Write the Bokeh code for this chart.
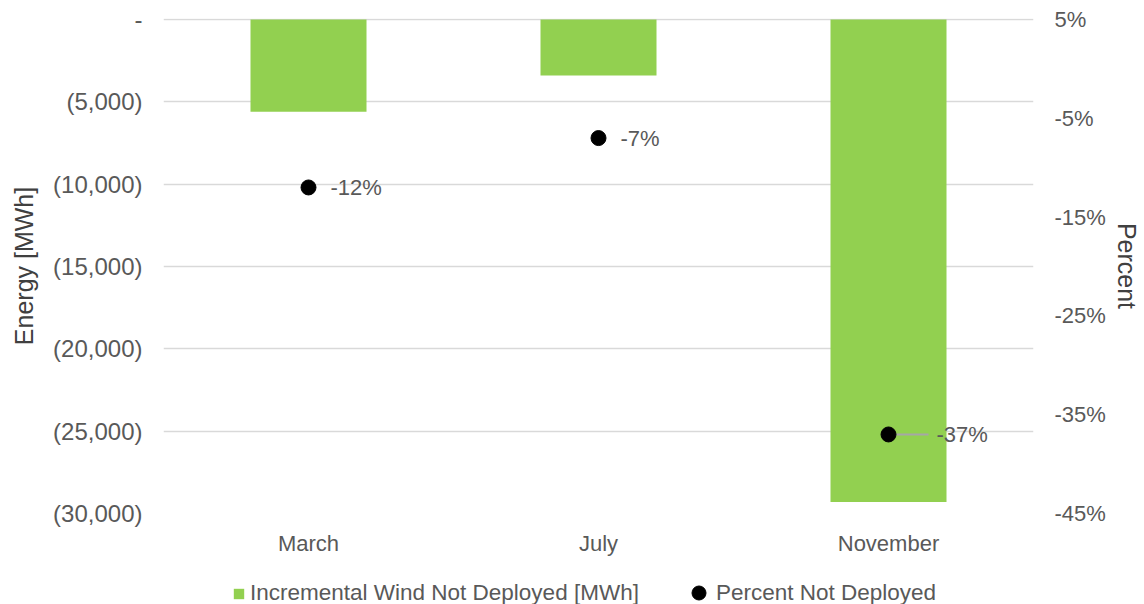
from bokeh.plotting import figure
from bokeh.layouts import column
from bokeh.models import (ColumnDataSource, FactorRange, Range1d, LinearAxis,
                          FixedTicker, Legend, LegendItem)
from bokeh.core.properties import value
from bokeh.embed import file_html
from bokeh.resources import INLINE

# --- data -------------------------------------------------------------
months = ["March", "July", "November"]
wind_not_deployed_mwh = [-5600, -3400, -29300]
percent_not_deployed = [-12, -7, -37]
percent_labels = ["-12%", "-7%", "-37%"]

energy_ticks = [0, -5000, -10000, -15000, -20000, -25000, -30000]
energy_tick_labels = ["-", "(5,000)", "(10,000)", "(15,000)", "(20,000)",
                      "(25,000)", "(30,000)"]
percent_ticks = [5, -5, -15, -25, -35, -45]
percent_tick_labels = ["5%", "-5%", "-15%", "-25%", "-35%", "-45%"]

series_names = ["Incremental Wind Not Deployed [MWh]", "Percent Not Deployed"]

# --- styling ----------------------------------------------------------
FONT = "Liberation Sans"
TEXT = "#595959"
TITLE = "#404040"
GREEN = "#92D050"
GRID = "#D9D9D9"

# axis extents; a sliver of headroom keeps the zero gridline fully visible
E_MIN, E_MAX = -30000, 0
P_MIN, P_MAX = -45, 5
HEADROOM = 61
P_HEADROOM = (P_MAX - P_MIN) * HEADROOM / (E_MAX - E_MIN)

src = ColumnDataSource(dict(
    month=months,
    energy=wind_not_deployed_mwh,
    pct=percent_not_deployed,
    pct_label=percent_labels,
    label_dx=[22, 22, 48],
))

p = figure(
    x_range=FactorRange(factors=months, range_padding=0),
    y_range=Range1d(E_MIN, E_MAX + HEADROOM),
    width=1144, height=575,
    output_backend="svg", toolbar_location=None,
    min_border_left=163, min_border_right=111,
    min_border_top=18, min_border_bottom=62,
    outline_line_color=None,
    background_fill_color="white", border_fill_color="white",
)
p.extra_y_ranges = {"pct": Range1d(P_MIN, P_MAX + P_HEADROOM)}

# grid
p.xgrid.grid_line_color = None
p.ygrid.grid_line_color = GRID
p.ygrid.grid_line_width = 1.4
p.ygrid.ticker = FixedTicker(ticks=energy_ticks)

# left axis
ly = p.yaxis[0]
ly.ticker = FixedTicker(ticks=energy_ticks)
ly.major_label_overrides = {t: s for t, s in zip(energy_ticks, energy_tick_labels)}
ly.axis_label = "Energy [MWh]"
ly.axis_label_text_font = FONT
ly.axis_label_text_font_style = "normal"
ly.axis_label_text_font_size = "25px"
ly.axis_label_text_color = TITLE
ly.axis_label_standoff = 12
ly.major_label_standoff = 15
ly.major_label_text_font = FONT
ly.major_label_text_font_size = "24px"
ly.major_label_text_color = TEXT
ly.axis_line_color = None
ly.major_tick_line_color = None
ly.minor_tick_line_color = None

# right axis (percent)
ry = LinearAxis(y_range_name="pct")
ry.ticker = FixedTicker(ticks=percent_ticks)
ry.major_label_overrides = {t: s for t, s in zip(percent_ticks, percent_tick_labels)}
ry.axis_label = "Percent"
ry.axis_label_text_font = FONT
ry.axis_label_text_font_style = "normal"
ry.axis_label_text_font_size = "25px"
ry.axis_label_text_color = TITLE
ry.axis_label_standoff = 4
ry.major_label_standoff = 15
ry.major_label_text_font = FONT
ry.major_label_text_font_size = "22px"
ry.major_label_text_color = TEXT
ry.axis_line_color = None
ry.major_tick_line_color = None
ry.minor_tick_line_color = None
p.add_layout(ry, "right")

# bottom category axis
bx = p.xaxis[0]
bx.axis_line_color = None
bx.major_tick_line_color = None
bx.major_label_standoff = 11
bx.major_label_text_font = FONT
bx.major_label_text_font_size = "22px"
bx.major_label_text_color = TEXT

# bars
p.vbar(x="month", top="energy", bottom=0, width=0.4, source=src,
       fill_color=GREEN, line_color=None)

# leader line for the displaced November label
p.ray(x=["November"], y=[percent_not_deployed[2]], length=40,
      length_units="screen", angle=0, line_color="#A6A6A6", line_width=2,
      y_range_name="pct")

# percent markers
p.scatter(x="month", y="pct", source=src, size=15, marker="circle",
          fill_color="black", line_color="black", y_range_name="pct")

p.text(x="month", y="pct", text="pct_label", source=src, x_offset="label_dx",
       y_range_name="pct", text_font=value(FONT), text_font_size="22px",
       text_color=TEXT, text_align="left", text_baseline="middle")

# --- legend strip under the chart ---------------------------------------
lg = figure(
    width=1144, height=29, x_range=Range1d(0, 1), y_range=Range1d(0, 1),
    output_backend="svg", toolbar_location=None,
    min_border_left=0, min_border_right=0, min_border_top=0, min_border_bottom=0,
    outline_line_color=None, border_fill_color="white",
)
lg.axis.visible = False
lg.grid.visible = False

# key glyphs sit outside the strip's ranges; only their legend swatches show
bar_key = lg.vbar(x=[-10], top=[-10], width=0.1, fill_color=GREEN, line_color=None)
dot_key = lg.scatter(x=[-10], y=[-10], marker="circle", fill_color="black",
                     line_color="black")

legend_style = dict(
    orientation="horizontal", label_text_font=FONT,
    label_text_font_size="22.5px", label_text_color=TEXT,
    padding=0, margin=0, border_line_color=None, background_fill_alpha=0,
)
lg.add_layout(Legend(
    items=[LegendItem(label=series_names[0], renderers=[bar_key])],
    location=(69, -2), glyph_width=13, glyph_height=13, label_standoff=5,
    **legend_style,
))
lg.add_layout(Legend(
    items=[LegendItem(label=series_names[1], renderers=[dot_key])],
    location=(518, -6), glyph_width=35, glyph_height=35, label_standoff=-9,
    **legend_style,
))

open("out.html", "w").write(file_html(column(p, lg, spacing=0), INLINE))
